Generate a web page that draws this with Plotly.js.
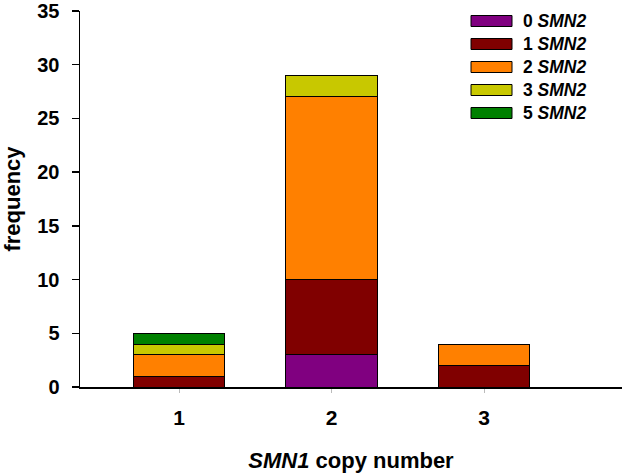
<!DOCTYPE html>
<html>
<head>
<meta charset="utf-8">
<script src="https://cdn.plot.ly/plotly-3.0.1.min.js"></script>
<style>html,body{margin:0;padding:0;background:#fff;}#chart{width:622px;height:473px;}</style>
</head>
<body>
<div id="chart"></div>
<script>
// Data
const copyNumbers = [1, 2, 3];
const seriesNames = ['0 <i>SMN2</i>', '1 <i>SMN2</i>', '2 <i>SMN2</i>', '3 <i>SMN2</i>', '5 <i>SMN2</i>'];
const smn2_0 = [null, 3, null];
const smn2_1 = [1, 7, 2];
const smn2_2 = [2, 17, 2];
const smn2_3 = [1, 2, null];
const smn2_5 = [1, null, null];
const seriesColors = ['#800080', '#800000', '#ff8000', '#c8c800', '#008000'];
const yTicks = [0, 5, 10, 15, 20, 25, 30, 35];

const allSeries = [smn2_0, smn2_1, smn2_2, smn2_3, smn2_5];
const traces = allSeries.map((vals, i) => ({
  type: 'bar',
  x: copyNumbers,
  y: vals,
  name: seriesNames[i],
  width: 0.6,
  marker: {color: seriesColors[i], line: {color: '#000', width: 1}},
  showlegend: false,
  hoverinfo: 'skip'
}));

const M = {l: 80, r: 0, t: 11, b: 86};
const W = 622, H = 473;
const pw = W - M.l - M.r, ph = H - M.t - M.b;
const FONT = 'Liberation Sans, Arial, sans-serif';
const shapes = [], annotations = [];
seriesNames.forEach((nm, i) => {
  const cy = 21 + i * 23;
  const y0 = (H - M.b - (cy + 5.5)) / ph, y1 = (H - M.b - (cy - 5.5)) / ph;
  const x0 = (471 - M.l) / pw, x1 = (512 - M.l) / pw;
  shapes.push({type: 'rect', xref: 'paper', yref: 'paper', x0: x0, x1: x1, y0: y0, y1: y1,
    fillcolor: seriesColors[i], line: {color: '#000', width: 1}});
  annotations.push({xref: 'paper', yref: 'paper', x: (521 - M.l) / pw, y: (H - M.b - cy) / ph,
    xanchor: 'left', yanchor: 'middle', showarrow: false, text: nm,
    font: {family: FONT, size: 17.5, color: '#000', weight: 'bold'}});
});

const layout = {
  width: W, height: H,
  margin: M,
  paper_bgcolor: '#fff', plot_bgcolor: '#fff',
  barmode: 'stack',
  showlegend: false,
  font: {family: FONT, color: '#000'},
  xaxis: {
    range: [0.35, 3.905],
    tickvals: copyNumbers,
    ticktext: copyNumbers.map(String),
    ticks: 'outside', ticklen: 4, tickcolor: '#bbb', tickwidth: 1,
    ticklabelstandoff: 7,
    showline: true, linecolor: '#000', linewidth: 1.5,
    showgrid: false, zeroline: false,
    tickfont: {size: 21, weight: 'bold'},
    title: {text: '<i>SMN1</i> copy number', font: {size: 22, weight: 'bold'}, standoff: 26}
  },
  yaxis: {
    range: [0, 35.001],
    tickvals: yTicks,
    ticks: 'outside', ticklen: 7, tickcolor: '#000', tickwidth: 1.5,
    ticklabelstandoff: 8,
    showline: true, linecolor: '#000', linewidth: 1.5,
    showgrid: false, zeroline: false,
    tickfont: {size: 20, weight: 'bold'},
    title: {text: 'frequency', font: {size: 22, weight: 'bold'}, standoff: 12}
  },
  shapes: shapes,
  annotations: annotations
};

Plotly.newPlot('chart', traces, layout, {displayModeBar: false, staticPlot: true});
</script>
</body>
</html>
